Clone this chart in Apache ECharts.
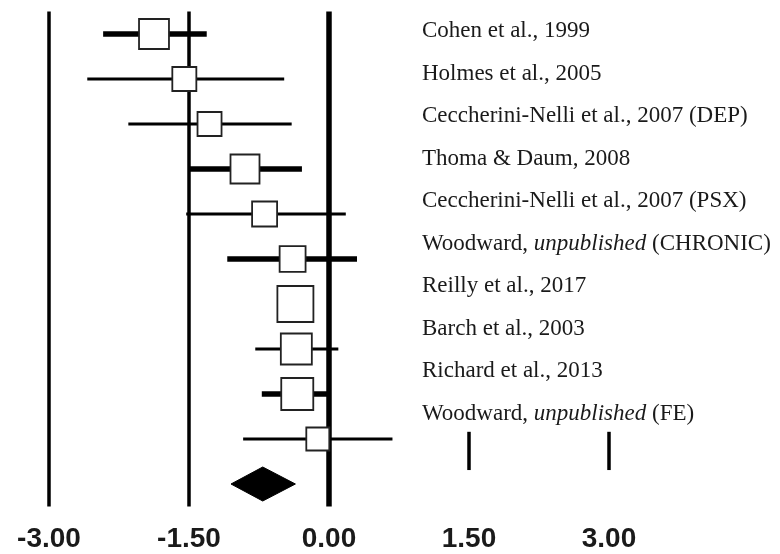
<!DOCTYPE html>
<html>
<head>
<meta charset="utf-8">
<script src="https://cdn.jsdelivr.net/npm/echarts@6/dist/echarts.min.js"></script>
<style>
  html, body { margin: 0; padding: 0; background: #fff; }
  #main { width: 780px; height: 554px; }
</style>
</head>
<body>
<div id="main"></div>
<script>
// studies, top to bottom
var studies = [
  'Cohen et al., 1999',
  'Holmes et al., 2005',
  'Ceccherini-Nelli et al., 2007 (DEP)',
  'Thoma & Daum, 2008',
  'Ceccherini-Nelli et al., 2007 (PSX)',
  'Woodward, {i|unpublished} (CHRONIC)',
  'Reilly et al., 2017',
  'Barch et al., 2003',
  'Richard et al., 2013',
  'Woodward, {i|unpublished} (FE)'
];
var effect = [-1.875, -1.55, -1.28, -0.90, -0.69, -0.39, -0.36, -0.35, -0.34, -0.12];
var ciLow  = [-2.42, -2.59, -2.15, -1.50, -1.53, -1.09, -0.50, -0.79, -0.72, -0.92];
var ciHigh = [-1.31, -0.48, -0.40, -0.29, 0.18, 0.30, -0.22, 0.10, 0.00, 0.68];
var weight = [11.2, 7.2, 7.2, 10.5, 7.8, 8.4, 16.2, 12.0, 12.8, 6.6]; // %
var ciBold = [true, false, false, true, false, true, true, false, true, false];

// pooled estimate
var pooled = { est: -0.71, low: -1.05, high: -0.36 };

var tickLabels = ['-3.00', '-1.50', '0.00', '1.50', '3.00'];
var refLineX = [-3, -1.5, 0, 1.5, 3];
var refLineFull = [true, true, true, false, false];

var chart = echarts.init(document.getElementById('main'));

var rowCount = studies.length + 1;
var studyData = [];
for (var i = 0; i < studies.length; i++) {
  studyData.push([i, effect[i], ciLow[i], ciHigh[i], Math.sqrt(weight[i]) * 8.95, ciBold[i] ? 5.5 : 3.2]);
}
var refData = [];
for (var k = 0; k < refLineX.length; k++) {
  refData.push([refLineX[k], refLineFull[k] ? 1 : 0, refLineX[k] === 0 ? 5.5 : 3.5]);
}

var option = {
  backgroundColor: '#ffffff',
  animation: false,
  grid: [
    { left: 49, right: 31, top: 11.5, bottom: 47.5 },
    // the study names sit on a slightly tighter pitch than the rows
    { left: 422, right: 0, top: 10, bottom: 119 }
  ],
  xAxis: [{
    type: 'value',
    gridIndex: 0,
    min: -3,
    max: 4.5,
    interval: 1.5,
    axisLine: { show: false },
    axisTick: { show: false },
    splitLine: { show: false },
    axisLabel: {
      margin: 19,
      fontFamily: 'Liberation Sans',
      fontWeight: 'bold',
      fontSize: 28,
      color: '#1a1a1a',
      formatter: function (v) {
        var s = v.toFixed(2);
        return tickLabels.indexOf(s) >= 0 ? s : '';
      }
    }
  }, {
    type: 'value',
    gridIndex: 1,
    show: false
  }],
  yAxis: [{
    type: 'value',
    gridIndex: 0,
    min: -0.5,
    max: rowCount - 0.5,
    inverse: true,
    show: false
  }, {
    type: 'category',
    gridIndex: 1,
    data: studies,
    inverse: true,
    position: 'left',
    axisLine: { show: false },
    axisTick: { show: false },
    splitLine: { show: false },
    axisLabel: {
      inside: true,
      margin: 0,
      fontFamily: 'Liberation Serif',
      fontSize: 23,
      color: '#1a1a1a',
      rich: {
        i: { fontStyle: 'italic', fontFamily: 'Liberation Serif', fontSize: 23, color: '#1a1a1a' }
      }
    }
  }],
  series: [{
    // reference lines
    type: 'custom',
    xAxisIndex: 0,
    yAxisIndex: 0,
    data: refData,
    renderItem: function (params, api) {
      var x = api.coord([api.value(0), 0])[0];
      var top, bottom;
      if (api.value(1)) {
        top = api.coord([0, -0.5])[1];
        bottom = api.coord([0, rowCount - 0.5])[1];
      } else {
        top = api.coord([0, 8.84])[1];
        bottom = api.coord([0, 9.69])[1];
      }
      return {
        type: 'line',
        shape: { x1: x, y1: top, x2: x, y2: bottom },
        style: { stroke: '#000', lineWidth: api.value(2) }
      };
    },
    z: 1
  }, {
    // studies
    type: 'custom',
    xAxisIndex: 0,
    yAxisIndex: 0,
    data: studyData,
    encode: { x: [1, 2, 3], y: 0 },
    renderItem: function (params, api) {
      var row = api.value(0);
      var pe = api.coord([api.value(1), row]);
      var pl = api.coord([api.value(2), row]);
      var ph = api.coord([api.value(3), row]);
      var s = api.value(4);
      return {
        type: 'group',
        children: [{
          type: 'line',
          shape: { x1: pl[0], y1: pe[1], x2: ph[0], y2: pe[1] },
          style: { stroke: '#000', lineWidth: api.value(5) }
        }, {
          type: 'rect',
          shape: { x: pe[0] - s / 2, y: pe[1] - s / 2, width: s, height: s },
          style: { fill: '#fff', stroke: '#222', lineWidth: 1.8 }
        }]
      };
    },
    z: 2
  }, {
    // pooled diamond
    type: 'custom',
    xAxisIndex: 0,
    yAxisIndex: 0,
    data: [[studies.length, pooled.est, pooled.low, pooled.high]],
    encode: { x: [1, 2, 3], y: 0 },
    renderItem: function (params, api) {
      var row = api.value(0);
      var pe = api.coord([api.value(1), row]);
      var pl = api.coord([api.value(2), row]);
      var ph = api.coord([api.value(3), row]);
      var h = 17;
      return {
        type: 'polygon',
        shape: { points: [[pl[0], pe[1]], [pe[0], pe[1] - h], [ph[0], pe[1]], [pe[0], pe[1] + h]] },
        style: { fill: '#000', stroke: '#000', lineWidth: 1 }
      };
    },
    z: 3
  }]
};

chart.setOption(option);
</script>
</body>
</html>
